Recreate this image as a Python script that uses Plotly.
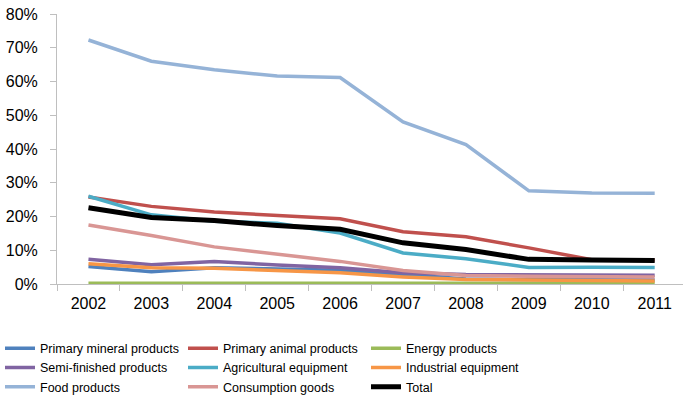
import plotly.graph_objects as go

years = ["2002", "2003", "2004", "2005", "2006", "2007", "2008", "2009", "2010", "2011"]

primary_mineral = [5.2, 3.6, 4.8, 4.5, 4.1, 2.8, 1.5, 1.3, 1.2, 1.2]
primary_animal = [25.8, 23.0, 21.3, 20.3, 19.3, 15.5, 14.0, 10.7, 7.2, 7.1]
energy = [0.2, 0.2, 0.3, 0.3, 0.2, 0.2, 0.2, 0.2, 0.2, 0.2]
semi_finished = [7.3, 5.7, 6.7, 5.6, 4.8, 3.3, 2.8, 2.7, 2.7, 2.6]
agricultural = [26.0, 20.5, 18.6, 18.0, 15.1, 9.2, 7.5, 4.9, 5.0, 4.9]
industrial = [6.0, 4.8, 4.7, 4.0, 3.3, 2.1, 1.3, 1.2, 1.0, 0.9]
food = [72.3, 66.0, 63.5, 61.6, 61.2, 48.0, 41.3, 27.6, 27.0, 26.9]
consumption = [17.5, 14.4, 11.0, 8.8, 6.7, 4.0, 2.5, 2.3, 2.2, 2.1]
total = [22.6, 19.7, 18.8, 17.3, 16.2, 12.2, 10.2, 7.3, 7.1, 7.0]

series = [
    ("Primary mineral products", primary_mineral, "#4F81BD", 3.5),
    ("Primary animal products", primary_animal, "#C0504D", 3.5),
    ("Energy products", energy, "#9BBB59", 3.5),
    ("Semi-finished products", semi_finished, "#8064A2", 3.5),
    ("Agricultural equipment", agricultural, "#4BACC6", 3.5),
    ("Industrial equipment", industrial, "#F79646", 3.5),
    ("Food products", food, "#95B3D7", 3.5),
    ("Consumption goods", consumption, "#D99694", 3.5),
    ("Total", total, "#000000", 5),
]

fig = go.Figure()
for name, vals, color, w in series:
    fig.add_trace(go.Scatter(
        x=years, y=[v / 100 for v in vals], name=name, mode="lines",
        line=dict(color=color, width=w),
    ))

fig.update_layout(
    width=683, height=401,
    margin=dict(l=57, r=0, t=14, b=117),
    plot_bgcolor="white", paper_bgcolor="white",
    font=dict(family="Liberation Sans, Arial, sans-serif", size=16, color="#000000"),
    showlegend=True,
    legend=dict(
        orientation="h", xref="container", yref="container",
        x=-0.003, xanchor="left", y=0.168, yanchor="top",
        entrywidth=138, entrywidthmode="pixels",
        font=dict(size=12.5),
        tracegroupgap=0, itemwidth=30,
    ),
    xaxis=dict(
        type="category", range=[-0.5, 9.45], automargin=False,
        showline=True, linecolor="#BFBFBF", linewidth=1,
        ticks="outside", tickson="boundaries", ticklen=6, tickcolor="#BFBFBF",
        ticklabelstandoff=5,
        showgrid=False, zeroline=False,
    ),
    yaxis=dict(
        range=[0, 0.8], dtick=0.1, tickformat=".0%", automargin=False,
        showline=True, linecolor="#BFBFBF", linewidth=1,
        ticks="outside", ticklen=6, tickcolor="#BFBFBF",
        ticklabelstandoff=9,
        showgrid=False, zeroline=False,
    ),
)

# drop the default 8px body margin so the figure fills the window
fig.write_html("out.html", config={"displayModeBar": False},
               post_script="document.body.style.margin='0';")
